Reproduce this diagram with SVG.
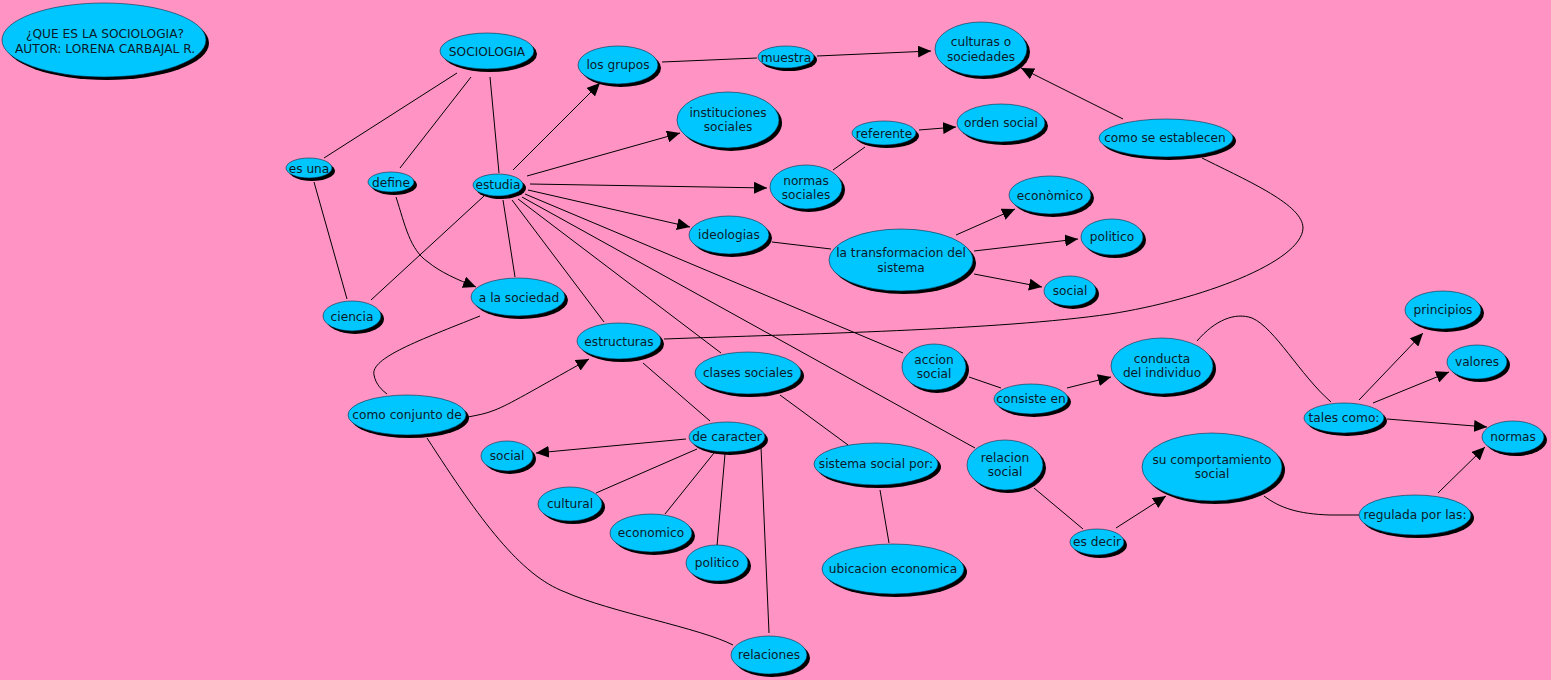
<svg xmlns="http://www.w3.org/2000/svg" width="1551" height="680" viewBox="0 0 1551 680">
<style>
.sh{fill:#000}
.nd{fill:#00C6FF;stroke:#0a2a44;stroke-width:0.6}
.t{font-family:"DejaVu Sans",Verdana,sans-serif;font-size:12.2px;fill:#0b1a2a;text-anchor:middle}
.e{fill:none;stroke:#000;stroke-width:1}
.a{marker-end:url(#ar)}
</style>
<defs>
<marker id="ar" markerUnits="userSpaceOnUse" markerWidth="14" markerHeight="12" refX="13" refY="6" orient="auto">
<path d="M0,0 L13,6 L0,12 Z" fill="#000"/>
</marker>
</defs>
<rect width="1551" height="680" fill="#FF94C4"/>
<g id="connectors">
<path class="e" d="M457,73 L324,158"/>
<path class="e" d="M471,77 L400,168"/>
<path class="e" d="M490,77 L499,173"/>
<path class="e" d="M314,182 L347,299"/>
<path class="e a" d="M396,197 C405,225 410,250 428,262 C440,272 458,280 476,287"/>
<path class="e" d="M484,196 L371,300"/>
<path class="e" d="M503,200 L515,277"/>
<path class="e a" d="M513,170 L600,83"/>
<path class="e a" d="M527,176 L680,133"/>
<path class="e a" d="M530,184 L767,188"/>
<path class="e a" d="M528,190 L690,227"/>
<path class="e" d="M525,194 L903,353"/>
<path class="e" d="M522,197 L975,448"/>
<path class="e" d="M518,199 L721,353"/>
<path class="e" d="M512,200 L604,322"/>
<path class="e" d="M662,62 L757,58"/>
<path class="e a" d="M817,56 L931,51"/>
<path class="e" d="M833,170 L865,147"/>
<path class="e a" d="M919,130 L956,127"/>
<path class="e" d="M772,242 L831,249"/>
<path class="e a" d="M956,235 L1015,209"/>
<path class="e a" d="M974,251 L1078,239"/>
<path class="e a" d="M974,274 L1042,287"/>
<path class="e a" d="M1123,119 L1021,68"/>
<path class="e" d="M1202,158 C1250,182 1303,205 1303,228 C1302,262 1200,300 1110,314 C1000,330 800,334 664,339"/>
<path class="e" d="M643,363 L710,421"/>
<path class="e" d="M780,395 L848,445"/>
<path class="e" d="M480,316 C420,340 370,358 374,375 C376,385 382,390 387,394"/>
<path class="e a" d="M468,417 C478,415 485,414 495,410 C510,404 530,392 589,359"/>
<path class="e" d="M427,438 C480,520 520,575 565,592 C610,612 700,628 733,645"/>
<path class="e a" d="M686,439 L536,453"/>
<path class="e" d="M697,449 L596,493"/>
<path class="e" d="M714,453 L665,514"/>
<path class="e" d="M725,454 L717,546"/>
<path class="e" d="M761,447 L769,633"/>
<path class="e" d="M880,490 L889,543"/>
<path class="e" d="M969,377 L1001,388"/>
<path class="e a" d="M1067,388 L1111,377"/>
<path class="e" d="M1197,341 C1215,320 1235,312 1252,318 C1275,328 1300,375 1331,402"/>
<path class="e a" d="M1359,400 L1423,333"/>
<path class="e a" d="M1373,403 L1449,372"/>
<path class="e a" d="M1387,419 L1487,427"/>
<path class="e" d="M1034,488 L1083,529"/>
<path class="e a" d="M1116,528 L1166,496"/>
<path class="e" d="M1264,496 C1280,508 1298,514 1330,515 L1359,515"/>
<path class="e a" d="M1438,493 L1485,447"/>
</g>
<g id="title"><ellipse class="sh" cx="107" cy="43" rx="102" ry="37"/><ellipse class="nd" cx="104" cy="40" rx="102" ry="37"/><text class="t" x="105" y="38">¿QUE ES LA SOCIOLOGIA?</text><text class="t" x="105" y="53">AUTOR: LORENA CARBAJAL R.</text></g>
<g id="sociologia"><ellipse class="sh" cx="490" cy="54" rx="47" ry="18"/><ellipse class="nd" cx="487" cy="51" rx="47" ry="18"/><text class="t" x="487" y="56">SOCIOLOGIA</text></g>
<g id="es-una"><ellipse class="sh" cx="312" cy="171" rx="23" ry="10"/><ellipse class="nd" cx="309" cy="168" rx="23" ry="10"/><text class="t" x="309" y="173">es una</text></g>
<g id="define"><ellipse class="sh" cx="394" cy="185" rx="23" ry="10"/><ellipse class="nd" cx="391" cy="182" rx="23" ry="10"/><text class="t" x="391" y="187">define</text></g>
<g id="estudia"><ellipse class="sh" cx="501" cy="188" rx="25" ry="11"/><ellipse class="nd" cx="498" cy="185" rx="25" ry="11"/><text class="t" x="498" y="189">estudia</text></g>
<g id="a-la-sociedad"><ellipse class="sh" cx="521" cy="300" rx="47" ry="19"/><ellipse class="nd" cx="518" cy="297" rx="47" ry="19"/><text class="t" x="519" y="302">a la sociedad</text></g>
<g id="ciencia"><ellipse class="sh" cx="355" cy="319" rx="29" ry="15"/><ellipse class="nd" cx="352" cy="316" rx="29" ry="15"/><text class="t" x="352" y="321">ciencia</text></g>
<g id="los-grupos"><ellipse class="sh" cx="621" cy="68" rx="40" ry="19"/><ellipse class="nd" cx="618" cy="65" rx="40" ry="19"/><text class="t" x="618" y="69">los grupos</text></g>
<g id="muestra"><ellipse class="sh" cx="789" cy="60" rx="28" ry="11"/><ellipse class="nd" cx="786" cy="57" rx="28" ry="11"/><text class="t" x="786" y="62">muestra</text></g>
<g id="culturas"><ellipse class="sh" cx="984" cy="52" rx="46" ry="27"/><ellipse class="nd" cx="981" cy="49" rx="46" ry="27"/><text class="t" x="981" y="46">culturas o</text><text class="t" x="981" y="61">sociedades</text></g>
<g id="instituciones"><ellipse class="sh" cx="731" cy="123" rx="51" ry="28"/><ellipse class="nd" cx="728" cy="120" rx="51" ry="28"/><text class="t" x="728" y="117">instituciones</text><text class="t" x="728" y="131">sociales</text></g>
<g id="referente"><ellipse class="sh" cx="887" cy="136" rx="32" ry="12"/><ellipse class="nd" cx="884" cy="133" rx="32" ry="12"/><text class="t" x="884" y="138">referente</text></g>
<g id="orden-social"><ellipse class="sh" cx="1004" cy="126" rx="44" ry="19"/><ellipse class="nd" cx="1001" cy="123" rx="44" ry="19"/><text class="t" x="1001" y="127">orden social</text></g>
<g id="normas-sociales"><ellipse class="sh" cx="809" cy="190" rx="36" ry="22"/><ellipse class="nd" cx="806" cy="187" rx="36" ry="22"/><text class="t" x="806" y="185">normas</text><text class="t" x="806" y="199">sociales</text></g>
<g id="economico1"><ellipse class="sh" cx="1053" cy="198" rx="41" ry="19"/><ellipse class="nd" cx="1050" cy="195" rx="41" ry="19"/><text class="t" x="1050" y="200">econòmico</text></g>
<g id="ideologias"><ellipse class="sh" cx="732" cy="238" rx="40" ry="19"/><ellipse class="nd" cx="729" cy="235" rx="40" ry="19"/><text class="t" x="729" y="239">ideologias</text></g>
<g id="transformacion"><ellipse class="sh" cx="904" cy="263" rx="72" ry="31"/><ellipse class="nd" cx="901" cy="260" rx="72" ry="31"/><text class="t" x="901" y="257">la transformacion del</text><text class="t" x="901" y="272">sistema</text></g>
<g id="politico1"><ellipse class="sh" cx="1115" cy="240" rx="31" ry="18"/><ellipse class="nd" cx="1112" cy="237" rx="31" ry="18"/><text class="t" x="1112" y="241">politico</text></g>
<g id="social1"><ellipse class="sh" cx="1073" cy="294" rx="26" ry="15"/><ellipse class="nd" cx="1070" cy="291" rx="26" ry="15"/><text class="t" x="1070" y="295">social</text></g>
<g id="como-se-establecen"><ellipse class="sh" cx="1169" cy="141" rx="67" ry="19"/><ellipse class="nd" cx="1166" cy="138" rx="67" ry="19"/><text class="t" x="1165" y="142">como se establecen</text></g>
<g id="principios"><ellipse class="sh" cx="1446" cy="313" rx="38" ry="19"/><ellipse class="nd" cx="1443" cy="310" rx="38" ry="19"/><text class="t" x="1443" y="314">principios</text></g>
<g id="estructuras"><ellipse class="sh" cx="622" cy="344" rx="42" ry="18"/><ellipse class="nd" cx="619" cy="341" rx="42" ry="18"/><text class="t" x="619" y="346">estructuras</text></g>
<g id="clases-sociales"><ellipse class="sh" cx="751" cy="376" rx="53" ry="21"/><ellipse class="nd" cx="748" cy="373" rx="53" ry="21"/><text class="t" x="748" y="377">clases sociales</text></g>
<g id="como-conjunto"><ellipse class="sh" cx="410" cy="418" rx="59" ry="20"/><ellipse class="nd" cx="407" cy="415" rx="59" ry="20"/><text class="t" x="407" y="419">como conjunto de</text></g>
<g id="de-caracter"><ellipse class="sh" cx="730" cy="440" rx="38" ry="15"/><ellipse class="nd" cx="727" cy="437" rx="38" ry="15"/><text class="t" x="727" y="441">de caracter</text></g>
<g id="social2"><ellipse class="sh" cx="510" cy="459" rx="26" ry="15"/><ellipse class="nd" cx="507" cy="456" rx="26" ry="15"/><text class="t" x="507" y="460">social</text></g>
<g id="cultural"><ellipse class="sh" cx="573" cy="507" rx="32" ry="17"/><ellipse class="nd" cx="570" cy="504" rx="32" ry="17"/><text class="t" x="570" y="508">cultural</text></g>
<g id="economico2"><ellipse class="sh" cx="654" cy="536" rx="41" ry="19"/><ellipse class="nd" cx="651" cy="533" rx="41" ry="19"/><text class="t" x="651" y="537">economico</text></g>
<g id="politico2"><ellipse class="sh" cx="720" cy="566" rx="31" ry="18"/><ellipse class="nd" cx="717" cy="563" rx="31" ry="18"/><text class="t" x="717" y="567">politico</text></g>
<g id="relaciones"><ellipse class="sh" cx="772" cy="658" rx="38" ry="19"/><ellipse class="nd" cx="769" cy="655" rx="38" ry="19"/><text class="t" x="769" y="659">relaciones</text></g>
<g id="sistema-social"><ellipse class="sh" cx="879" cy="467" rx="62" ry="21"/><ellipse class="nd" cx="876" cy="464" rx="62" ry="21"/><text class="t" x="876" y="468">sistema social por:</text></g>
<g id="ubicacion"><ellipse class="sh" cx="896" cy="572" rx="71" ry="25"/><ellipse class="nd" cx="893" cy="569" rx="71" ry="25"/><text class="t" x="893" y="573">ubicacion economica</text></g>
<g id="accion-social"><ellipse class="sh" cx="937" cy="370" rx="32" ry="23"/><ellipse class="nd" cx="934" cy="367" rx="32" ry="23"/><text class="t" x="934" y="364">accion</text><text class="t" x="934" y="378">social</text></g>
<g id="consiste-en"><ellipse class="sh" cx="1034" cy="402" rx="37" ry="15"/><ellipse class="nd" cx="1031" cy="399" rx="37" ry="15"/><text class="t" x="1031" y="403">consiste en</text></g>
<g id="conducta"><ellipse class="sh" cx="1165" cy="369" rx="51" ry="28"/><ellipse class="nd" cx="1162" cy="366" rx="51" ry="28"/><text class="t" x="1162" y="363">conducta</text><text class="t" x="1162" y="377">del individuo</text></g>
<g id="tales-como"><ellipse class="sh" cx="1347" cy="421" rx="40" ry="15"/><ellipse class="nd" cx="1344" cy="418" rx="40" ry="15"/><text class="t" x="1344" y="422">tales como:</text></g>
<g id="valores"><ellipse class="sh" cx="1480" cy="365" rx="30" ry="17"/><ellipse class="nd" cx="1477" cy="362" rx="30" ry="17"/><text class="t" x="1477" y="366">valores</text></g>
<g id="normas"><ellipse class="sh" cx="1516" cy="440" rx="31" ry="16"/><ellipse class="nd" cx="1513" cy="437" rx="31" ry="16"/><text class="t" x="1513" y="441">normas</text></g>
<g id="relacion-social"><ellipse class="sh" cx="1008" cy="468" rx="38" ry="25"/><ellipse class="nd" cx="1005" cy="465" rx="38" ry="25"/><text class="t" x="1005" y="462">relacion</text><text class="t" x="1005" y="476">social</text></g>
<g id="su-comportamiento"><ellipse class="sh" cx="1215" cy="470" rx="70" ry="34"/><ellipse class="nd" cx="1212" cy="467" rx="70" ry="34"/><text class="t" x="1212" y="464">su comportamiento</text><text class="t" x="1212" y="478">social</text></g>
<g id="es-decir"><ellipse class="sh" cx="1100" cy="545" rx="27" ry="13"/><ellipse class="nd" cx="1097" cy="542" rx="27" ry="13"/><text class="t" x="1097" y="546">es decir</text></g>
<g id="regulada"><ellipse class="sh" cx="1418" cy="518" rx="56" ry="20"/><ellipse class="nd" cx="1415" cy="515" rx="56" ry="20"/><text class="t" x="1415" y="519">regulada por las:</text></g>
</svg>
